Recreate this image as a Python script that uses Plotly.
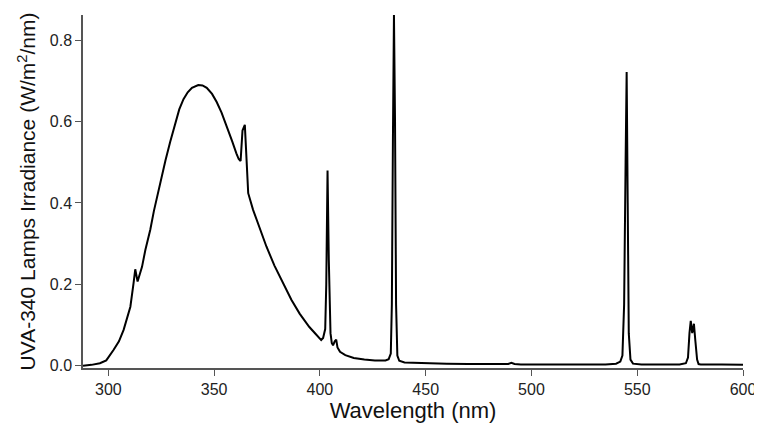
import plotly.graph_objects as go

# wavelength (nm) and irradiance (W/m2/nm)
wavelength = [
    288, 292, 296, 299, 302.5, 305, 307.2, 309, 310.4, 311.9, 312.7, 313.8,
    315.9, 317.5, 319.8, 321.5, 324.5, 327, 329.2, 331.5, 333.5, 335.5, 337.5,
    339.5, 342.5, 344.5, 346.5, 349, 351.2, 353.5, 355.9, 358.5, 360.5,
    361.6, 362.5, 363.4, 364.5, 365.3, 366.1, 368.4, 371.5, 374.7, 378.5,
    382.6, 386.5, 390.4, 393, 395, 398, 400, 400.6, 401.5, 402.5, 403,
    403.6, 404.2, 405, 405.6, 406.2, 407, 407.7, 408.3, 409.5, 412, 416, 421,
    426, 431, 432.5, 433.5, 434, 434.5, 435, 435.5, 436, 436.6, 437.5, 440, 445,
    450, 460, 470, 480, 489, 490.5, 492, 495, 505, 520, 535, 540, 542, 543,
    543.8, 544.5, 545, 545.5, 546, 546.8, 548, 552, 560, 570, 573, 574, 574.7,
    575.3, 576, 576.8, 577.5, 578.3, 579, 580, 590, 600,
]
irradiance = [
    0.0, 0.002, 0.006, 0.013, 0.039, 0.060, 0.088, 0.120, 0.145, 0.203, 0.237, 0.207,
    0.243, 0.285, 0.334, 0.380, 0.450, 0.505, 0.550, 0.595, 0.630, 0.655, 0.672,
    0.683, 0.690, 0.689, 0.683, 0.668, 0.648, 0.622, 0.590, 0.552, 0.522,
    0.508, 0.503, 0.578, 0.592, 0.514, 0.424, 0.383, 0.338, 0.293, 0.246,
    0.203, 0.162, 0.128, 0.108, 0.095, 0.078, 0.068, 0.063, 0.068, 0.090, 0.200,
    0.480, 0.260, 0.080, 0.056, 0.050, 0.060, 0.064, 0.045, 0.034, 0.026, 0.019, 0.015,
    0.013, 0.013, 0.016, 0.030, 0.150, 0.550, 0.862, 0.600, 0.150, 0.025, 0.012, 0.008, 0.007,
    0.006, 0.005, 0.004, 0.004, 0.004, 0.007, 0.004, 0.003, 0.003, 0.003, 0.003, 0.005, 0.010, 0.025,
    0.150, 0.500, 0.722, 0.400, 0.080, 0.015, 0.005, 0.003, 0.003, 0.003, 0.006, 0.020, 0.080,
    0.110, 0.080, 0.103, 0.060, 0.015, 0.004, 0.003, 0.003, 0.002,
]

x_ticks = [300, 350, 400, 450, 500, 550, 600]
y_ticks = [0.0, 0.2, 0.4, 0.6, 0.8]

fig = go.Figure()
fig.add_trace(go.Scatter(x=wavelength, y=irradiance, mode="lines",
                         line=dict(color="black", width=2)))

axis_font = dict(family="Liberation Sans, Arial, sans-serif", size=16, color="#222")
title_font = dict(family="Liberation Sans, Arial, sans-serif", size=21, color="#111")

fig.update_xaxes(range=[288, 600], tickvals=x_ticks, ticks="outside", ticklen=6,
                 tickcolor="#555", showline=True, linecolor="#555", linewidth=1.5,
                 showgrid=False, zeroline=False, tickfont=axis_font, automargin=False,
                 title=dict(text="Wavelength (nm)", font=dict(title_font, size=22),
                            standoff=4))
fig.update_yaxes(range=[-0.0057, 0.862], tickvals=y_ticks, tickformat=".1f",
                 ticks="outside", ticklen=6, tickcolor="#555", showline=True,
                 linecolor="#555", linewidth=1.5, showgrid=False, zeroline=False,
                 tickfont=axis_font, automargin=False,
                 title=dict(text="UVA-340 Lamps Irradiance (W/m<sup>2</sup>/nm)",
                            font=title_font, standoff=8))

# the page body adds an 8px margin, so the figure is a bit smaller than the window
fig.update_layout(width=754, height=419, plot_bgcolor="white", paper_bgcolor="white",
                  showlegend=False, margin=dict(l=75, r=19, t=7, b=59))

fig.write_html("out.html")
